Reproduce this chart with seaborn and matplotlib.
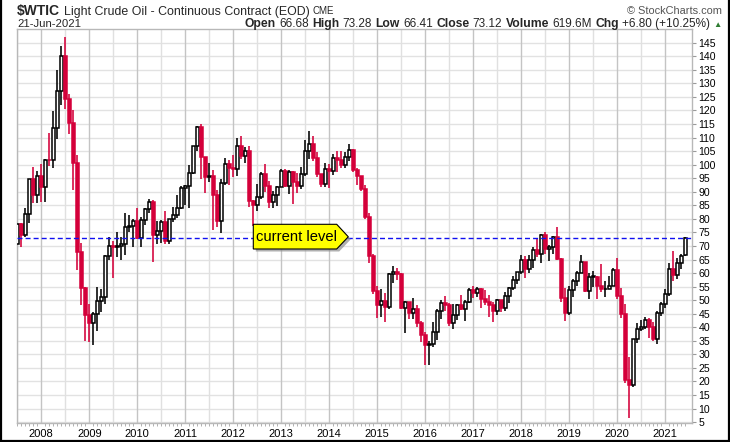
import matplotlib
matplotlib.use("Agg")
import matplotlib.pyplot as plt
import numpy as np
import pandas as pd
import seaborn as sns
from matplotlib.patches import Polygon
from matplotlib.lines import Line2D

# ---------------- data (monthly candles, Jul 2007 - Jun 2021) ----------------
months = pd.date_range("2007-07-01", "2021-06-01", freq="MS")

opens = [
    70.68, 78.21, 74.04, 81.66, 94.53, 88.71,
    95.98, 91.75, 101.84, 101.58, 113.46, 127.35, 140.00, 124.08, 115.46, 100.64, 67.81, 54.43,
    44.60, 41.68, 44.76, 49.66, 51.12, 66.31, 69.89, 69.45, 69.96, 70.61, 77.00, 77.28,
    79.36, 72.89, 79.66, 83.76, 86.15, 73.97, 75.63, 78.95, 71.92, 79.97, 81.43, 84.11,
    91.38, 92.19, 96.97, 106.72, 113.93, 102.70, 95.42, 95.70, 88.81, 79.20, 93.19, 100.36,
    98.83, 98.48, 107.07, 103.02, 104.87, 86.53, 84.96, 88.06, 96.47, 92.19, 86.24, 88.91,
    91.82, 97.49, 92.05, 97.23, 93.46, 91.97, 96.56, 105.03, 107.65, 102.33, 96.38, 92.72,
    98.42, 97.49, 102.59, 101.58, 99.74, 102.71, 105.37, 98.17, 95.96, 91.16, 80.54, 66.15,
    53.27, 48.24, 49.76, 47.60, 59.63, 60.30, 59.47, 47.12, 49.20, 45.09, 46.59, 41.65,
    37.04, 33.62, 33.75, 38.34, 45.92, 49.10, 48.33, 41.60, 44.70, 48.24, 46.86, 49.44,
    53.72, 52.81, 54.01, 50.60, 49.33, 48.32, 46.04, 50.17, 47.23, 51.67, 54.38, 57.40,
    60.42, 64.73, 61.64, 64.94, 68.57, 67.04, 74.15, 68.76, 69.80, 73.25, 65.31, 50.93,
    45.41, 53.79, 57.22, 60.14, 63.91, 53.50, 58.90, 58.58, 55.10, 54.07, 54.18, 55.17,
    61.06, 51.56, 44.76, 20.48, 18.84, 35.49, 39.27, 40.27, 42.61, 40.22, 35.79, 45.34,
    48.52, 52.20, 61.50, 59.16, 63.58, 66.68,
]
highs = [
    78.77, 78.50, 83.90, 94.74, 99.29, 97.79,
    100.09, 102.08, 111.80, 119.93, 135.09, 143.67, 147.27, 126.15, 120.00, 103.71, 71.23, 54.80,
    48.60, 45.80, 54.70, 54.00, 66.60, 73.40, 72.00, 75.00, 73.40, 82.00, 81.50, 80.00,
    83.95, 80.51, 83.85, 87.15, 87.09, 79.36, 79.42, 82.97, 80.13, 84.43, 88.63, 92.06,
    92.58, 99.80, 106.95, 114.20, 114.83, 103.00, 100.62, 98.00, 90.52, 94.65, 102.44, 101.77,
    103.74, 109.95, 110.55, 106.40, 106.90, 86.80, 92.94, 97.43, 100.42, 93.86, 90.10, 91.95,
    98.24, 98.24, 97.94, 97.80, 97.00, 99.04, 108.93, 112.24, 110.74, 104.50, 96.50, 100.75,
    100.27, 103.99, 105.22, 104.99, 104.50, 107.68, 105.63, 98.89, 96.00, 92.50, 82.00, 67.00,
    55.24, 54.24, 52.48, 59.90, 62.58, 61.97, 59.93, 49.70, 49.50, 50.92, 48.36, 42.27,
    38.39, 34.82, 41.90, 46.78, 50.21, 51.67, 49.00, 48.75, 48.40, 51.93, 50.20, 54.51,
    55.24, 54.94, 54.49, 53.76, 52.00, 49.14, 50.43, 50.22, 52.86, 54.84, 59.05, 60.51,
    66.66, 66.30, 66.55, 69.56, 72.83, 74.46, 75.27, 70.19, 73.75, 76.90, 65.61, 54.55,
    55.37, 57.81, 60.73, 66.60, 63.92, 59.93, 60.94, 58.78, 63.38, 56.92, 58.73, 61.88,
    65.65, 54.66, 48.66, 29.13, 35.56, 41.63, 42.52, 43.78, 43.50, 41.93, 45.85, 49.36,
    54.24, 63.81, 67.98, 65.47, 67.01, 73.28,
]
lows = [
    69.96, 69.50, 73.30, 78.62, 86.02, 85.95,
    86.11, 86.10, 99.55, 98.65, 109.47, 122.11, 120.42, 111.34, 90.51, 61.30, 48.25, 35.00,
    34.50, 33.60, 38.70, 45.50, 48.50, 65.00, 58.30, 66.00, 65.00, 66.50, 75.00, 69.50,
    72.43, 69.50, 77.61, 82.00, 64.24, 70.76, 71.05, 70.76, 70.76, 79.00, 80.21, 83.50,
    84.94, 84.06, 96.50, 105.00, 94.63, 89.61, 93.63, 75.71, 77.11, 74.95, 92.52, 92.52,
    95.44, 95.85, 102.18, 100.68, 84.44, 77.28, 83.00, 87.46, 90.05, 84.05, 84.05, 84.70,
    91.73, 91.63, 89.33, 85.61, 89.50, 91.11, 95.91, 102.22, 101.35, 95.51, 91.77, 91.86,
    91.24, 96.06, 97.37, 98.65, 98.93, 101.46, 97.28, 92.50, 90.43, 80.01, 63.72, 52.44,
    43.58, 43.90, 42.03, 46.70, 56.51, 57.42, 46.68, 37.75, 43.21, 43.21, 39.93, 34.53,
    26.19, 26.05, 32.78, 35.24, 43.03, 45.83, 40.57, 39.19, 42.52, 46.48, 42.20, 49.00,
    50.71, 51.22, 47.09, 48.18, 43.76, 42.05, 44.40, 45.58, 46.02, 49.10, 53.78, 55.82,
    59.80, 58.07, 59.95, 61.84, 65.80, 63.59, 67.03, 64.43, 67.05, 64.86, 49.41, 42.36,
    44.35, 51.23, 55.08, 60.05, 53.05, 50.60, 54.69, 50.52, 52.97, 50.99, 54.11, 55.09,
    50.58, 43.32, 19.27, 6.50, 17.90, 34.36, 38.72, 39.50, 36.13, 34.92, 33.64, 44.13,
    47.18, 51.44, 57.25, 57.63, 61.56, 66.41,
]
closes = [
    78.21, 74.04, 81.66, 94.53, 88.71, 95.98,
    91.75, 101.84, 101.58, 113.46, 127.35, 140.00, 124.08, 115.46, 100.64, 67.81, 54.43, 44.60,
    41.68, 44.76, 49.66, 51.12, 66.31, 69.89, 69.45, 69.96, 70.61, 77.00, 77.28, 79.36,
    72.89, 79.66, 83.76, 86.15, 73.97, 75.63, 78.95, 71.92, 79.97, 81.43, 84.11, 91.38,
    92.19, 96.97, 106.72, 113.93, 102.70, 95.42, 95.70, 88.81, 79.20, 93.19, 100.36, 98.83,
    98.48, 107.07, 103.02, 104.87, 86.53, 84.96, 88.06, 96.47, 92.19, 86.24, 88.91, 91.82,
    97.49, 92.05, 97.23, 93.46, 91.97, 96.56, 105.03, 107.65, 102.33, 96.38, 92.72, 98.42,
    97.49, 102.59, 101.58, 99.74, 102.71, 105.37, 98.17, 95.96, 91.16, 80.54, 66.15, 53.27,
    48.24, 49.76, 47.60, 59.63, 60.30, 59.47, 47.12, 49.20, 45.09, 46.59, 41.65, 37.04,
    33.62, 33.75, 38.34, 45.92, 49.10, 48.33, 41.60, 44.70, 48.24, 46.86, 49.44, 53.72,
    52.81, 54.01, 50.60, 49.33, 48.32, 46.04, 50.17, 47.23, 51.67, 54.38, 57.40, 60.42,
    64.73, 61.64, 64.94, 68.57, 67.04, 74.15, 68.76, 69.80, 73.25, 65.31, 50.93, 45.41,
    53.79, 57.22, 60.14, 63.91, 53.50, 58.47, 58.58, 55.10, 54.07, 54.18, 55.17, 61.06,
    51.56, 44.76, 20.48, 18.84, 35.49, 39.27, 40.27, 42.61, 40.22, 35.79, 45.34, 48.52,
    52.20, 61.50, 59.16, 63.58, 66.32, 73.12,
]
year_labels = [str(y) for y in range(2008, 2022)]
price_ticks = list(range(5, 150, 5))
current_level = 73.12
annotation_text = "current level"

title_symbol = "$WTIC"
title_name = "Light Crude Oil - Continuous Contract (EOD)"
title_exch = "CME"
date_text = "21-Jun-2021"
quote_items = [("Open", "66.68"), ("High", "73.28"), ("Low", "66.41"),
               ("Close", "73.12"), ("Volume", "619.6M"), ("Chg", "+6.80 (+10.25%)")]
credit_text = "\u00a9 StockCharts.com"

assert len(months) == len(opens) == len(highs) == len(lows) == len(closes) == 168

# ---------------- styling ----------------
sns.set_theme(style="white")
plt.rcParams["font.family"] = ["Liberation Sans", "DejaVu Sans"]

RED = "#d4003a"
W, H = 730, 442

df = pd.DataFrame({"date": months, "open": opens, "high": highs,
                   "low": lows, "close": closes})
df["x"] = np.arange(len(df))
prev_close = df["close"].shift(1).fillna(df["open"])
df["color"] = np.where(df["close"] < prev_close, RED, "black")
df["hollow"] = df["close"] >= df["open"]

fig = plt.figure(figsize=(W / 100, H / 100), dpi=100)
fig.patch.set_facecolor("white")
ax = fig.add_axes([17 / W, 1 - 423 / H, (691.7 - 17) / W, (423 - 29) / H])
ax.set_facecolor("white")

# grid
for p in price_ticks:
    ax.axhline(p, color="#e2e2e2", lw=1.0, zorder=0)
jan_pos = df.index[df["date"].dt.month == 1].to_numpy()
jul_pos = df.index[df["date"].dt.month == 7].to_numpy()
for xp in jul_pos:
    ax.axvline(xp, color="#e0e0e0", lw=1.0, zorder=0)
for xp in jan_pos:
    ax.axvline(xp, color="#c4c4c4", lw=1.0, zorder=0)

# candles: wicks then bodies
ax.vlines(df["x"], df["low"], df["high"], colors=df["color"], lw=1.15, zorder=2)
body_bottom = np.minimum(df["open"], df["close"])
body_h = np.maximum(np.abs(df["close"] - df["open"]), 0.15)
face = np.where(df["hollow"], "white", df["color"])
ax.bar(df["x"], body_h, bottom=body_bottom, width=0.74, color=face,
       edgecolor=df["color"], linewidth=1.1, zorder=3)

# current level line
ax.axhline(current_level, color="#1010f0", lw=1.0, linestyle=(0, (3.6, 2.2)), zorder=4)

ax.set_xlim(-0.075, 168.6)
ax.set_ylim(4.67, 150.06)

# axes formatting
ax.yaxis.tick_right()
ax.set_yticks(price_ticks)
ax.set_yticklabels([str(p) for p in price_ticks])
ax.tick_params(axis="y", which="major", right=True, left=False, length=3,
               width=0.8, color="#9a9a9a", labelsize=7.6, pad=2, labelcolor="black")
ax.set_xticks(jan_pos)
ax.set_xticklabels(year_labels)
ax.set_xticks(df["x"].to_numpy(), minor=True)
ax.tick_params(axis="x", which="major", bottom=True, length=0, labelsize=8, pad=4,
               labelcolor="black")
ax.tick_params(axis="x", which="minor", bottom=True, length=2, width=0.7, color="#b0b0b0")
for s in ax.spines.values():
    s.set_color("#b8b8b8")
    s.set_linewidth(1.0)
ax.set_xlabel("")
ax.set_ylabel("")

# ---------------- annotation ----------------
def fx(px):
    return px / W


def fy(py):
    return 1 - py / H


box = [(253.3, 224.3), (336.7, 224.3), (348.3, 236.8), (336.7, 249.0), (253.3, 249.0)]
shadow = Polygon([(fx(x + 2.5), fy(y + 2.5)) for x, y in box], closed=True,
                 transform=fig.transFigure, facecolor="#8f8f8f", edgecolor="none",
                 alpha=0.7, zorder=10, clip_on=False)
poly = Polygon([(fx(x), fy(y)) for x, y in box], closed=True,
               transform=fig.transFigure, facecolor="#ffff00", edgecolor="black",
               lw=0.8, zorder=11, clip_on=False)
ax.add_patch(shadow)
ax.add_patch(poly)
fig.text(fx(296.5), fy(237.3), annotation_text, ha="center", va="center",
         fontsize=10.6, color="black", zorder=12)

# ---------------- header ----------------
renderer = fig.canvas.get_renderer()


def draw_segments(segments, x0, y_base, align="left", gap=3.2):
    texts = []
    x = x0
    for s, kw in segments:
        t = fig.text(fx(x), fy(y_base), s, ha="left", va="baseline", **kw)
        w = t.get_window_extent(renderer).width
        texts.append(t)
        x += w + gap
    total = x - gap - x0
    if align == "right":
        for t in texts:
            px, py = t.get_position()
            t.set_position((px - total / W, py))
    return texts


draw_segments([(title_symbol, dict(fontsize=10, fontweight="bold")),
               (title_name, dict(fontsize=8.9)),
               (title_exch, dict(fontsize=7.0))], 17, 14.5, gap=3.6)
fig.text(fx(17), fy(27), date_text, ha="left", va="baseline", fontsize=8.2)
segs = []
for lab, val in quote_items:
    segs.append((lab, dict(fontsize=8.7, fontweight="bold")))
    segs.append((val, dict(fontsize=8.5)))
segs.append(("\u25b2", dict(fontsize=6, color="#2f7d32")))
draw_segments(segs, 722, 27, align="right", gap=3.4)
fig.text(fx(722), fy(13.5), credit_text, ha="right", va="baseline", fontsize=7.9,
         color="#555555")

# figure border (left, bottom, right)
for xs, ys in [((0.0015, 0.0015), (0, 1)), ((0, 1), (0.003, 0.003)),
               ((0.9985, 0.9985), (0, 1))]:
    fig.add_artist(Line2D(xs, ys, transform=fig.transFigure, color="black", lw=1.6))

fig.savefig("out.png", dpi=100, facecolor="white")
